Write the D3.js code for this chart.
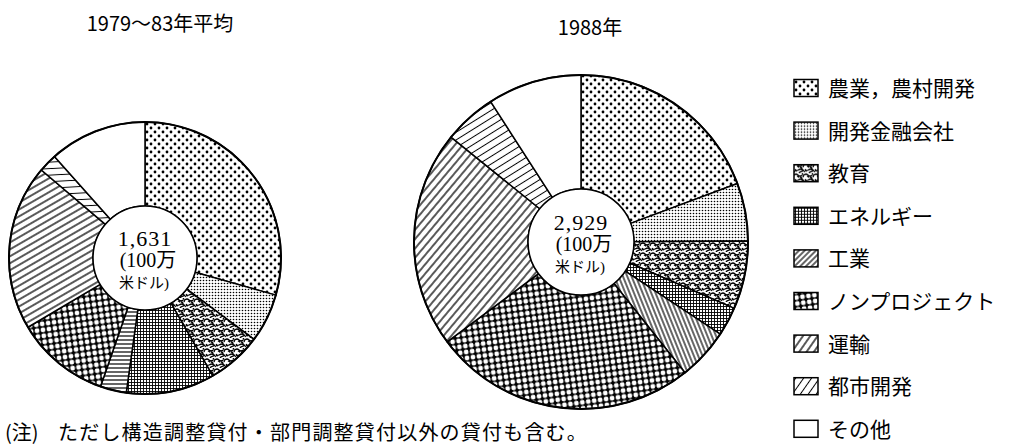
<!DOCTYPE html>
<html>
<head>
<meta charset="utf-8">
<script src="https://cdn.jsdelivr.net/npm/d3@7"></script>
<style>
  body { margin: 0; background: #fff; }
  svg { display: block; }
</style>
</head>
<body>
<div id="chart"></div>
<script>
const width = 1011;
const height = 447;

// data (share of lending, %)
const categories = ["農業，農村開発", "開発金融会社", "教育", "エネルギー", "工業", "ノンプロジェクト", "運輸", "都市開発", "その他"];
const shares1979 = [29.4, 5.8, 6.5, 10.5, 3.1, 11.2, 19.7, 2.2, 11.6];
const shares1988 = [19.3, 5.6, 6.6, 2.8, 5.0, 25.5, 21.0, 5.1, 9.1];
const totals = ["1,631", "2,929"];
const titles = ["1979～83年平均", "1988年"];
const unitLines = ["(100万", "米ドル)"];
const noteHead = "(注)";
const noteBody = "ただし構造調整貸付・部門調整貸付以外の貸付も含む。";

const pies = [
  { cx: 145, cy: 258, r: 136, ri: 52, values: shares1979, total: totals[0], title: titles[0], tx: 160, ty: 31,
    angles: { 4: 0, 6: -30, 7: -3 } },
  { cx: 581, cy: 242, r: 167, ri: 53, values: shares1988, total: totals[1], title: titles[1], tx: 590, ty: 35,
    angles: { 4: 68, 6: -50, 7: -32 } }
];

const svg = d3.select("#chart").append("svg")
  .attr("width", width)
  .attr("height", height)
  .attr("viewBox", [0, 0, width, height]);

const defs = svg.append("defs");

function hatch(id, sp, angle, sw) {
  const p = defs.append("pattern")
    .attr("id", id)
    .attr("patternUnits", "userSpaceOnUse")
    .attr("width", sp).attr("height", sp)
    .attr("patternTransform", `rotate(${angle})`);
  p.append("rect").attr("width", sp).attr("height", sp).attr("fill", "#fff");
  p.append("line").attr("x1", 0).attr("x2", sp).attr("y1", sp / 2).attr("y2", sp / 2)
    .attr("stroke", "#000").attr("stroke-width", sw);
}

function basePattern(id, w, h) {
  const p = defs.append("pattern")
    .attr("id", id)
    .attr("patternUnits", "userSpaceOnUse")
    .attr("width", w).attr("height", h);
  p.append("rect").attr("width", w).attr("height", h).attr("fill", "#fff");
  return p;
}

// 0 agriculture: sparse dots
let p = basePattern("p0", 8, 8);
p.append("circle").attr("cx", 2).attr("cy", 2).attr("r", 1.4);
p.append("circle").attr("cx", 6).attr("cy", 6).attr("r", 1.4);
// 1 DFC: fine dots
p = basePattern("p1", 3, 3);
p.append("circle").attr("cx", 1.5).attr("cy", 1.5).attr("r", 0.8);
// 2 education: squiggles
p = basePattern("p2", 10, 10);
["M0,2 q2,-2 4,0 t4,0", "M1,6 q1,2 3,1 t3,-1 t3,2", "M5,10 c1,-2 3,-1 5,-3",
 "M8,0 q2,2 1,4", "M3,3.5 q1,-1 2,1", "M0,9 q1,-2 3,-1", "M6,4 q2,0 2,2"].forEach(d =>
  p.append("path").attr("d", d).attr("fill", "none").attr("stroke", "#000").attr("stroke-width", 1.3));
// 3 energy: dense cross grid
p = basePattern("p3", 3, 3);
p.append("path").attr("d", "M0,1.5H3M1.5,0V3").attr("stroke", "#000").attr("stroke-width", 0.9);
// 5 non-project: black grid with round holes
p = defs.append("pattern").attr("id", "p5").attr("patternUnits", "userSpaceOnUse")
  .attr("width", 6).attr("height", 6).attr("patternTransform", "rotate(-8)");
p.append("rect").attr("width", 6).attr("height", 6).attr("fill", "#000");
p.append("circle").attr("cx", 3).attr("cy", 3).attr("r", 2.45).attr("fill", "#fff");
// 8 other: white
basePattern("p8", 4, 4);

const hatchStyle = { 4: [4, 1.2], 6: [6, 1.3], 7: [6.5, 1] };
pies.forEach((pie, i) => {
  Object.entries(pie.angles).forEach(([k, a]) => hatch(`p${k}_${i}`, hatchStyle[k][0], a, hatchStyle[k][1]));
});
hatch("p4_l", 4, -45, 1.2);
hatch("p6_l", 6, -55, 1.3);
hatch("p7_l", 6.5, -55, 1);

function fillFor(k, i) {
  return hatchStyle[k] ? `url(#p${k}_${i})` : `url(#p${k})`;
}

const pieGen = d3.pie().sort(null).value(d => d);
const serif = "'Liberation Serif', 'DejaVu Serif', 'Noto Sans CJK JP', serif";

pies.forEach((pie, i) => {
  const g = svg.append("g").attr("transform", `translate(${pie.cx},${pie.cy})`);
  const arc = d3.arc().innerRadius(pie.ri).outerRadius(pie.r);
  g.selectAll("path.slice")
    .data(pieGen(pie.values))
    .join("path")
    .attr("class", "slice")
    .attr("d", arc)
    .attr("fill", (d, k) => fillFor(k, i))
    .attr("stroke", "#000")
    .attr("stroke-width", 1.5)
    .attr("stroke-linejoin", "round");
  g.append("circle").attr("r", pie.r).attr("fill", "none").attr("stroke", "#000").attr("stroke-width", 2);
  g.append("circle").attr("r", pie.ri).attr("fill", "#fff").attr("stroke", "#000").attr("stroke-width", 1.5);

  g.append("text").attr("x", 0).attr("y", -12).attr("text-anchor", "middle")
    .attr("font-family", serif).attr("font-size", 22).attr("letter-spacing", 1).text(pie.total);
  g.append("text").attr("x", 3).attr("y", 9).attr("text-anchor", "middle")
    .attr("font-family", serif).attr("font-size", 20).text(unitLines[0]);
  g.append("text").attr("x", -1).attr("y", 30).attr("text-anchor", "middle")
    .attr("font-family", serif).attr("font-size", 15).text(unitLines[1]);

  svg.append("text").attr("x", pie.tx).attr("y", pie.ty).attr("text-anchor", "middle")
    .attr("font-family", "'Noto Sans CJK JP', sans-serif").attr("font-size", 20)
    .text(pie.title);
});

// legend
const legend = svg.append("g").attr("transform", "translate(794,88)");
const rowH = 42.6;
const rows = legend.selectAll("g").data(categories).join("g")
  .attr("transform", (d, k) => `translate(0,${k * rowH})`);
rows.append("rect")
  .attr("x", 0).attr("y", -8.5).attr("width", 24).attr("height", 17)
  .attr("fill", (d, k) => hatchStyle[k] ? `url(#p${k}_l)` : `url(#p${k})`)
  .attr("stroke", "#000").attr("stroke-width", 1.5);
rows.append("text")
  .attr("x", 34).attr("y", 8)
  .attr("font-family", "'Noto Sans CJK JP', sans-serif").attr("font-size", 21)
  .text(d => d);

const noteFont = "'Noto Sans CJK JP', sans-serif";
svg.append("text").attr("x", 5).attr("y", 440)
  .attr("font-family", noteFont).attr("font-size", 20).text(noteHead);
svg.append("text").attr("x", 58).attr("y", 440)
  .attr("font-family", noteFont).attr("font-size", 20).attr("letter-spacing", 1.2).text(noteBody);
</script>
</body>
</html>
